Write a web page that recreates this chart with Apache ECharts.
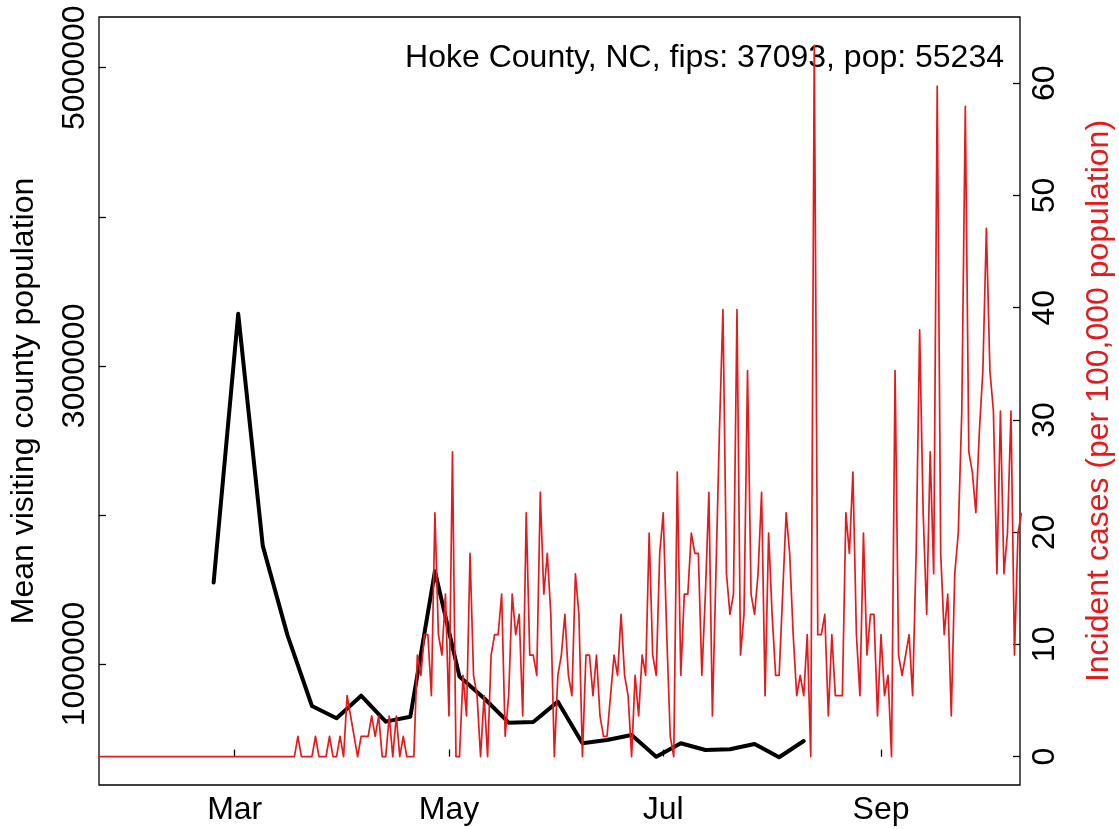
<!DOCTYPE html>
<html><head><meta charset="utf-8">
<script src="https://cdn.jsdelivr.net/npm/echarts@6/dist/echarts.min.js"></script>
<style>html,body{margin:0;padding:0;background:#fff}#c{width:1119px;height:829px}</style>
</head><body><div id="c"></div>
<script>
// ---- data ----
const titleText = 'Hoke County, NC, fips: 37093, pop: 55234';
const leftAxisName = 'Mean visiting county population';
const rightAxisName = 'Incident cases (per 100,000 population)';
const monthTickDates = ['2020-03-01', '2020-05-01', '2020-07-01', '2020-09-01'];
const monthTickLabels = ['Mar', 'May', 'Jul', 'Sep'];
const leftTicks = [1000000, 2000000, 3000000, 4000000, 5000000];
const leftLabels = [1000000, 3000000, 5000000];
const rightTicks = [0, 10, 20, 30, 40, 50, 60];

const visitDates = ['2020-02-24','2020-03-02','2020-03-09','2020-03-16','2020-03-23','2020-03-30',
  '2020-04-06','2020-04-13','2020-04-20','2020-04-27','2020-05-04','2020-05-11','2020-05-18',
  '2020-05-25','2020-06-01','2020-06-08','2020-06-15','2020-06-22','2020-06-29','2020-07-06',
  '2020-07-13','2020-07-20','2020-07-27','2020-08-03','2020-08-10'];
const visitValues = [1546000,3349000,1792000,1195000,718000,636000,
  787000,613000,646000,1622000,915000,770000,606000,
  611000,747000,468000,490000,523000,378000,468000,
  423000,428000,463000,374000,483000];

const caseStartDate = '2020-01-22';
const caseValues = [
  0,0,0,0,0,0,0,0,0,0, 0,0,0,0,0,0,0,0,0,0,
  0,0,0,0,0,0,0,0,0,0, 0,0,0,0,0,0,0,0,0,0,
  0,0,0,0,0,0,0,0,0,0, 0,0,0,0,0,0,0,1.81,0,0,
  0,0,1.81,0,0,0,1.81,0,0,1.81, 0,5.43,3.62,1.81,0,1.81,1.81,1.81,3.62,1.81,
  3.62,0,0,3.62,0,3.62,0,1.81,0,0, 0,9.05,7.24,10.86,10.86,5.43,21.73,10.86,9.05,14.48,
  3.62,27.16,0,0,7.24,3.62,18.10,7.24,5.43,0, 5.43,0,9.05,10.86,10.86,14.48,1.81,5.43,14.48,10.86,
  12.67,3.62,21.73,9.05,9.05,7.24,23.54,14.48,18.10,12.67, 0,7.24,9.05,12.67,7.24,5.43,16.29,12.67,0,9.05,
  9.05,5.43,9.05,3.62,1.81,1.81,5.43,9.05,7.24,12.67, 7.24,5.43,0,7.24,3.62,9.05,7.24,19.92,9.05,7.24,
  18.10,21.73,10.86,1.81,0,25.35,7.24,14.48,14.48,19.92, 18.10,18.10,7.24,14.48,23.54,3.62,16.29,28.97,39.83,16.29,
  12.67,14.48,39.83,9.05,12.67,34.40,14.48,12.67,16.29,23.54, 5.43,19.92,12.67,7.24,7.24,14.48,21.73,18.10,10.86,5.43,
  7.24,5.43,10.86,0,63.37,10.86,10.86,12.67,3.62,10.86, 5.43,5.43,5.43,21.73,18.10,25.35,10.86,5.43,19.92,9.05,
  12.67,12.67,3.62,10.86,5.43,7.24,0,34.40,9.05,7.24, 9.05,10.86,5.43,18.10,38.02,21.73,12.67,27.16,16.29,59.75,
  18.10,10.86,14.48,3.62,16.29,19.92,30.78,57.94,27.16,25.35, 21.73,28.97,34.40,47.07,34.40,30.78,16.29,30.78,16.29,19.92,
  30.78,9.05,19.92,21.73
];

// ---- helpers: x is measured in days since the first case date ----
const DAY = 86400000;
function ts(s) { const p = s.split('-').map(Number); return Date.UTC(p[0], p[1] - 1, p[2]); }
const start = ts(caseStartDate);
function dayOf(s) { return (ts(s) - start) / DAY; }
const caseData = caseValues.map((v, i) => [i, v]);
const visitData = visitDates.map((d, i) => [dayOf(d), visitValues[i]]);
const monthTicks = monthTickDates.map(dayOf);

const FONT = '"Liberation Sans", Arial, Helvetica, sans-serif';
const FS = 32;
const RED = '#e41a1c';

const chart = echarts.init(document.getElementById('c'), null, { renderer: 'canvas' });
chart.setOption({
  animation: false,
  backgroundColor: '#fff',
  grid: { left: 99, right: 99, top: 17, bottom: 44, show: true, borderColor: '#000', borderWidth: 1.3, backgroundColor: 'transparent' },
  xAxis: {
    type: 'value',
    min: 0.37,
    max: 262.57,
    axisLine: { show: false },
    splitLine: { show: false },
    axisTick: { show: true, inside: true, length: 7, customValues: monthTicks, lineStyle: { color: '#000', width: 1.3 } },
    axisLabel: {
      customValues: monthTicks, margin: 9, color: '#000', fontSize: FS, fontFamily: FONT,
      formatter: function (v) { const i = monthTicks.indexOf(v); return i >= 0 ? monthTickLabels[i] : ''; }
    }
  },
  yAxis: [{
    type: 'value', position: 'left',
    min: 187900, max: 5340300,
    axisLine: { show: false }, splitLine: { show: false },
    axisTick: { show: true, inside: true, length: 7, customValues: leftTicks, lineStyle: { color: '#000', width: 1.3 } },
    axisLabel: { customValues: leftLabels, rotate: 90, margin: 8, color: '#000', fontSize: FS, fontFamily: FONT,
      formatter: function (v) { return String(Math.round(v)); } }
  }, {
    type: 'value', position: 'right',
    min: -2.53, max: 65.9,
    axisLine: { show: false }, splitLine: { show: false },
    axisTick: { show: true, inside: true, length: 7, customValues: rightTicks, lineStyle: { color: '#000', width: 1.3 } },
    axisLabel: { customValues: rightTicks, rotate: 90, margin: 9, color: '#000', fontSize: FS, fontFamily: FONT,
      formatter: function (v) { return String(Math.round(v)); } }
  }],
  graphic: [
    { type: 'text', x: 1004, y: 58, z: 0,
      style: { text: titleText, align: 'right', verticalAlign: 'middle', fill: '#000', fontSize: FS, fontFamily: FONT } },
    { type: 'text', x: 24, y: 401, rotation: Math.PI / 2, z: 0,
      style: { text: leftAxisName, align: 'center', verticalAlign: 'middle', fill: '#000', fontSize: FS, fontFamily: FONT } },
    { type: 'text', x: 1099, y: 401, rotation: Math.PI / 2, z: 0,
      style: { text: rightAxisName, align: 'center', verticalAlign: 'middle', fill: RED, fontSize: FS, fontFamily: FONT } }
  ],
  series: [{
    type: 'line', yAxisIndex: 0, data: visitData, showSymbol: false, z: 3,
    lineStyle: { color: '#000', width: 4, cap: 'round', join: 'round' }
  }, {
    type: 'line', yAxisIndex: 1, data: caseData, showSymbol: false, z: 4, clip: true,
    lineStyle: { color: RED, width: 1.7, join: 'round' }
  }]
});
</script></body></html>
